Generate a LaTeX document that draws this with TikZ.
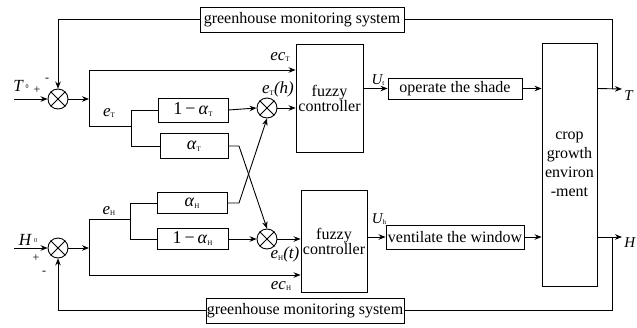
\documentclass[tikz,border=0pt]{standalone}
\usepackage{fontspec}
\setmainfont{Liberation Serif}
\usetikzlibrary{arrows.meta,calc}
\newcommand{\sbx}[1]{\raisebox{-0.25ex}{\fontsize{7}{7}\selectfont\upshape #1}}
\newcommand{\zsub}{\,\raisebox{0.35ex}{\fontsize{6}{6}\selectfont\upshape 0}}
\begin{document}
\begin{tikzpicture}[x=1pt,y=-1pt,line width=0.9pt,
  blk/.style={draw,inner sep=0pt,align=center,font=\fontsize{16}{15}\selectfont},
  sumc/.style={draw,circle,minimum size=20pt,inner sep=0pt},
  arr/.style={-{Stealth[length=7pt,width=5.5pt]}},
  lab/.style={inner sep=0pt,font=\fontsize{17}{17}\selectfont\itshape},
  sgn/.style={inner sep=0pt,font=\fontsize{12}{12}\selectfont}]
\useasboundingbox (0,0) rectangle (637,327);
% blocks
\node[blk,minimum width=204pt,minimum height=25pt] (mon1) at (302,19.5) {greenhouse monitoring system};
\node[blk,minimum width=198pt,minimum height=25pt] (mon2) at (305,310.5) {greenhouse monitoring system};
\node[blk,minimum width=67pt,minimum height=108pt] (fz1) at (329.5,98) {fuzzy\\controller};
\node[blk,minimum width=66pt,minimum height=102pt] (fz2) at (334,241) {fuzzy\\controller};
\node[blk,minimum width=55pt,minimum height=243pt,font=\fontsize{16}{19}\selectfont] (crop) at (569.5,164.5) {crop\\growth\\environ\\-ment};
\node[blk,minimum width=134pt,minimum height=21pt] (op) at (455,88.5) {operate the shade};
\node[blk,minimum width=138pt,minimum height=24pt] (vent) at (455,237) {ventilate the window};
\node[blk,minimum width=70pt,minimum height=24pt,font=\fontsize{18}{18}\selectfont] (a1) at (193,110) {1\,−\,\textit{α}\sbx{T}};
\node[blk,minimum width=68pt,minimum height=25pt,font=\fontsize{18}{18}\selectfont] (a2) at (194,146) {\textit{α}\sbx{T}};
\node[blk,minimum width=70pt,minimum height=21pt,font=\fontsize{18}{18}\selectfont] (a3) at (192,203) {\textit{α}\sbx{H}};
\node[blk,minimum width=71pt,minimum height=21pt,font=\fontsize{18}{18}\selectfont] (a4) at (192.5,239) {1\,−\,\textit{α}\sbx{H}};
% summing / multiplying junctions
\node[sumc] (sT) at (58,99) {};
\node[sumc] (sH) at (58,248) {};
\node[sumc] (mT) at (267,108) {};
\node[sumc] (mH) at (267,239) {};
\foreach \n in {sT,sH,mT,mH} \draw (\n.45) -- (\n.225) (\n.135) -- (\n.315);
% coordinates
\coordinate (inT) at (14,99);
\coordinate (inH) at (14,248);
\coordinate (jT) at (89,99);
\coordinate (jTa) at (89,70);
\coordinate (jTb) at (89,126);
\coordinate (kT) at (131,126);
\coordinate (kTa) at (131,110);
\coordinate (kTb) at (131,146);
\coordinate (jH) at (89,248);
\coordinate (jHa) at (89,219);
\coordinate (jHb) at (89,275);
\coordinate (kH) at (130,219);
\coordinate (kHa) at (130,203);
\coordinate (kHb) at (130,239);
\coordinate (bT) at (239,146);
\coordinate (bH) at (239,203);
\coordinate (outT) at (622,89);
\coordinate (outH) at (622,237);
\coordinate (fT) at (612,89);
\coordinate (fH) at (612,237);
% T loop
\draw[arr] (inT) -- (sT.west);
\draw[arr] (sT.east) -- (jT);
\draw (jTa) -- (jTb) -- (kT);
\draw[arr] (jTa) -- (jTa -| fz1.west);
\draw (kTa) -- (kTb);
\draw (kTa) -- (a1.west);
\draw (kTb) -- (a2.west);
\draw[arr] (a1.east) -- (mT.west);
\draw[arr] (mT.east) -- (mT.east -| fz1.west);
\draw[arr] (a2.east) -- (bT) -- (mH.north);
\draw[arr] (a3.east) -- (bH) -- (mT.south);
\draw[arr] (op.west -| fz1.east) -- (op.west);
\draw[arr] (op.east) -- (op.east -| crop.west);
\draw[arr] (op.east -| crop.east) -- (outT);
\draw (fT) -- (fT |- mon1.east) -- (mon1.east);
\draw[arr] (mon1.west) -- (mon1.west -| sT.north) -- (sT.north);
% H loop
\draw[arr] (inH) -- (sH.west);
\draw[arr] (sH.east) -- (jH);
\draw (jHa) -- (jHb);
\draw (jHa) -- (kH);
\draw (kHa) -- (kHb);
\draw (kHa) -- (a3.west);
\draw (kHb) -- (a4.west);
\draw[arr] (jHb) -- (jHb -| fz2.west);
\draw[arr] (a4.east) -- (mH.west);
\draw[arr] (mH.east) -- (mH.east -| fz2.west);
\draw[arr] (vent.west -| fz2.east) -- (vent.west);
\draw[arr] (vent.east) -- (vent.east -| crop.west);
\draw[arr] (vent.east -| crop.east) -- (outH);
\draw (fH) -- (fH |- mon2.east) -- (mon2.east);
\draw[arr] (mon2.west) -- (mon2.west -| sH.south) -- (sH.south);
% labels
\node[lab] (lT0) at (21,86) {T\zsub};
\node[sgn] (pT) at (37,90) {+};
\node[sgn] (mTs) at (47,80) {-};
\node[lab] (lH0) at (28,240) {H\zsub};
\node[sgn] (pH) at (36,258) {+};
\node[sgn] (mHs) at (44,273) {-};
\node[lab] (ecT) at (280,57) {ec\sbx{T}};
\node[lab] (eT) at (109,113) {e\sbx{T}};
\node[lab] (eTh) at (278,89) {e\sbx{T}(h)};
\node[lab,font=\fontsize{15}{15}\selectfont\itshape] (Ut) at (378,80) {U\sbx{t}};
\node[lab] (eH) at (109,211) {e\sbx{H}};
\node[lab] (eHt) at (285,254) {e\sbx{H}(t)};
\node[lab] (ecH) at (281,286) {ec\sbx{H}};
\node[lab,font=\fontsize{15}{15}\selectfont\itshape] (Uh) at (379,219) {U\sbx{h}};
\node[lab,anchor=west,font=\fontsize{15}{15}\selectfont\itshape] (oT) at (624,96) {T};
\node[lab,anchor=west,font=\fontsize{15}{15}\selectfont\itshape] (oH) at (624,243) {H};
\end{tikzpicture}
\end{document}
